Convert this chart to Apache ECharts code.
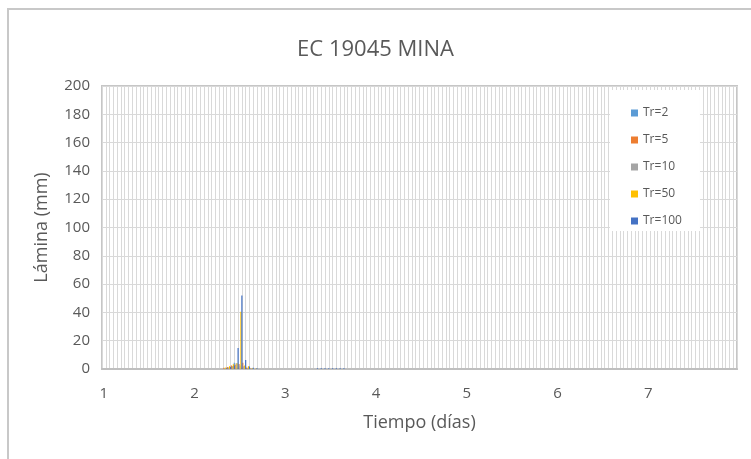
<!DOCTYPE html>
<html>
<head>
<meta charset="utf-8">
<script src="https://cdn.jsdelivr.net/npm/echarts@6/dist/echarts.min.js"></script>
<style>
  html, body { margin: 0; padding: 0; background: #fff; }
  #chart { width: 751px; height: 459px; }
</style>
</head>
<body>
<div id="chart"></div>
<script>
// categorias horarias: 7 dias x 24 horas, etiqueta = dia
const dias = [1, 2, 3, 4, 5, 6, 7]
const horasPorDia = 24
const nombres = ['Tr=2', 'Tr=5', 'Tr=10', 'Tr=50', 'Tr=100']
const colores = ['#5b9bd5', '#ed7d31', '#a5a5a5', '#ffc000', '#4472c4']

// valores (mm), desde la hora 32
const inicio = 32
const tr2 = [0, 0.8, 1.5, 4.4, 1.0, 0.8, 0.5, 0.3, 0]
const tr5 = [0.8, 1.5, 2.5, 3.0, 3.5, 4.5, 1.0, 0.4, 0]
const tr10 = [0.3, 1.0, 2.0, 4.0, 2.5, 2.0, 0.8, 0.3, 0]
const tr50 = [1.0, 2.0, 3.3, 4.0, 40.5, 2.5, 2.0, 0.6, 0.3]
const tr100 = [0.5, 1.5, 2.5, 14.8, 52, 6.4, 1.8, 0.8, 0.5]
// cola pequeña de Tr=100
const inicioCola = 56
const colaTr100 = [0.5, 0.5, 0.5, 0.5, 0.5, 0.5, 0.5, 0.5]

const horas = []
for (let i = 0; i < dias.length * horasPorDia; i++) {
  horas.push(i % horasPorDia === 0 ? String(dias[i / horasPorDia]) : '')
}

function serie(vals, desde, extra, desdeExtra) {
  const out = horas.map(() => 0)
  vals.forEach((v, i) => { out[desde + i] = v })
  if (extra) extra.forEach((v, i) => { out[desdeExtra + i] = v })
  return out
}
const datos = [
  serie(tr2, inicio),
  serie(tr5, inicio),
  serie(tr10, inicio),
  serie(tr50, inicio),
  serie(tr100, inicio, colaTr100, inicioCola)
]

const fuente = '"Open Sans", sans-serif'
const gris = '#595959'

const chart = echarts.init(document.getElementById('chart'))
chart.setOption({
  animation: false,
  textStyle: { fontFamily: fuente },
  title: {
    text: 'EC 19045 MINA',
    left: 'center',
    top: 34,
    textStyle: { fontFamily: fuente, fontSize: 22, fontWeight: 'normal', color: gris }
  },
  graphic: [{
    type: 'rect',
    shape: { x: 8, y: 9, width: 800, height: 500 },
    style: { fill: 'none', stroke: '#c8c8c8', lineWidth: 2 },
    silent: true
  }],
  legend: {
    orient: 'vertical',
    left: 610,
    top: 90,
    padding: [17, 18, 4, 21],
    itemGap: 15,
    itemWidth: 7,
    itemHeight: 7,
    icon: 'rect',
    backgroundColor: '#fff',
    data: nombres,
    textStyle: { fontFamily: fuente, fontSize: 12, color: gris }
  },
  grid: {
    left: 102, right: 14, top: 86, bottom: 90,
    show: true, borderColor: '#c6c6c6', borderWidth: 2
  },
  xAxis: {
    type: 'category',
    data: horas,
    name: 'Tiempo (días)',
    nameLocation: 'middle',
    nameGap: 45,
    nameTextStyle: { fontFamily: fuente, fontSize: 18, color: gris },
    axisLine: { lineStyle: { color: '#bfbfbf', width: 2 } },
    axisTick: { show: false },
    axisLabel: { interval: horasPorDia - 1, margin: 17, fontSize: 15, color: gris },
    splitLine: { show: true, interval: 0, lineStyle: { color: '#d9d9d9', width: 1 } }
  },
  yAxis: {
    type: 'value',
    min: 0, max: 200, interval: 20,
    name: 'Lámina (mm)',
    nameLocation: 'middle',
    nameGap: 51,
    nameTextStyle: { fontFamily: fuente, fontSize: 18, color: gris },
    axisLine: { show: false },
    axisTick: { show: false },
    axisLabel: { margin: 12, fontSize: 15, color: gris },
    splitLine: { lineStyle: { color: '#d9d9d9', width: 1 } }
  },
  series: nombres.map((n, k) => ({
    name: n,
    type: 'bar',
    data: datos[k],
    barWidth: 1.2,
    barGap: '-20%',
    itemStyle: { color: colores[k] }
  }))
})
</script>
</body>
</html>
